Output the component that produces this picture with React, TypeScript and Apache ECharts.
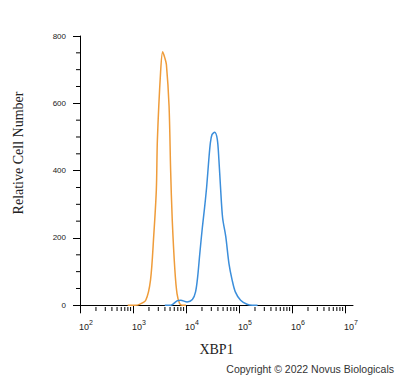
import React, { useEffect, useRef } from "react";
import * as echarts from "echarts";

// x positions are log10(fluorescence intensity)
const ORANGE_X = [2.9, 3.05, 3.11, 3.24, 3.33, 3.39, 3.44, 3.46, 3.52, 3.56, 3.6, 3.63, 3.68, 3.71, 3.74, 3.79, 3.83, 3.88, 3.93, 4.0];
const ORANGE_Y = [0, 0, 2, 15, 75, 204, 343, 492, 692, 753, 735, 715, 592, 400, 254, 104, 35, 5, 0, 0];

const BLUE_X = [3.6, 3.71, 3.83, 3.9, 4.02, 4.12, 4.18, 4.22, 4.26, 4.31, 4.35, 4.39, 4.43, 4.46, 4.49, 4.54, 4.59, 4.62, 4.65, 4.69, 4.75, 4.81, 4.87, 4.93, 5.03, 5.15, 5.25, 5.35];
const BLUE_Y = [0, 0, 13, 15, 10, 17, 40, 85, 154, 234, 290, 353, 433, 483, 507, 514, 493, 433, 353, 260, 204, 124, 75, 40, 15, 3, 0, 0];

const X_DECADES = [2, 3, 4, 5, 6, 7];
const MINOR_MULTIPLIERS = [2, 3, 4, 5, 6, 7, 8, 9];
const Y_TICKS = [0, 200, 400, 600, 800];
const Y_MINOR_TICKS = [50, 100, 150, 250, 300, 350, 450, 500, 550, 650, 700, 750];

const X_MIN = 2;
const X_MAX = 7.15;
const Y_MIN = -5;
const Y_MAX = 800;

const minorTicks: number[][] = [];
X_DECADES.slice(0, -1).forEach((d) => {
  MINOR_MULTIPLIERS.forEach((m) => minorTicks.push([d + Math.log10(m), Y_MIN]));
});

export default function App() {
  const ref = useRef<HTMLDivElement>(null);
  useEffect(() => {
    const chart = echarts.init(ref.current!, null, { renderer: "svg" });
    chart.setOption({
      animation: false,
      backgroundColor: "#ffffff",
      grid: { left: 80, right: 47, top: 36, bottom: 71, containLabel: false },
      xAxis: {
        type: "value",
        min: X_MIN,
        max: X_MAX,
        interval: 1,
        name: "XBP1",
        nameLocation: "middle",
        nameGap: 35,
        nameTextStyle: { fontFamily: "Liberation Serif", fontSize: 14, color: "#222" },
        axisLine: { lineStyle: { color: "#000", width: 1 } },
        axisTick: { length: 8, lineStyle: { color: "#000" }, customValues: X_DECADES },
        splitLine: { show: false },
        axisLabel: {
          customValues: X_DECADES,
          margin: 10,
          padding: [0, 0, 0, 12],
          formatter: (v: number) => `{b|10}{s|${v}}`,
          rich: {
            b: { fontFamily: "Liberation Sans", fontSize: 9, color: "#222", padding: [5, 0, 0, 0] },
            s: { fontFamily: "Liberation Sans", fontSize: 7, color: "#222", padding: [0, 0, 4, 0] },
          },
        },
      },
      yAxis: {
        type: "value",
        min: Y_MIN,
        max: Y_MAX,
        axisLine: { show: true, lineStyle: { color: "#000", width: 1 } },
        axisTick: { show: true, length: 7, lineStyle: { color: "#000" }, customValues: Y_TICKS },
        minorTick: { show: false },
        splitLine: { show: false },
        axisLabel: {
          customValues: Y_TICKS,
          margin: 14,
          fontFamily: "Liberation Sans",
          fontSize: 8,
          color: "#222",
        },
      },
      graphic: [
        {
          type: "text",
          x: 18,
          y: 153,
          rotation: Math.PI / 2,
          style: {
            text: "Relative Cell Number",
            fontFamily: "Liberation Serif",
            fontSize: 14,
            fill: "#222",
            align: "center",
            verticalAlign: "middle",
          },
        },
        {
          type: "text",
          x: 394,
          y: 369,
          style: {
            text: "Copyright © 2022 Novus Biologicals",
            fontFamily: "Liberation Sans",
            fontSize: 10.5,
            fill: "#333",
            align: "right",
            verticalAlign: "middle",
          },
        },
      ],
      series: [
        {
          type: "custom",
          silent: true,
          clip: false,
          data: minorTicks,
          renderItem: (params: any, api: any) => {
            const p = api.coord([api.value(0), api.value(1)]);
            return {
              type: "line",
              shape: { x1: p[0], y1: p[1], x2: p[0], y2: p[1] + 4 },
              style: { stroke: "#000", lineWidth: 1 },
            };
          },
        },
        {
          type: "custom",
          silent: true,
          clip: false,
          data: Y_MINOR_TICKS.map((v) => [X_MIN, v]),
          renderItem: (params: any, api: any) => {
            const p = api.coord([api.value(0), api.value(1)]);
            return {
              type: "line",
              shape: { x1: p[0] - 4, y1: p[1], x2: p[0], y2: p[1] },
              style: { stroke: "#000", lineWidth: 1 },
            };
          },
        },
        {
          type: "line",
          data: ORANGE_X.map((x, i) => [x, ORANGE_Y[i]]),
          smooth: 0.3,
          showSymbol: false,
          lineStyle: { color: "#EF9C3A", width: 1.5 },
        },
        {
          type: "line",
          data: BLUE_X.map((x, i) => [x, BLUE_Y[i]]),
          smooth: 0.3,
          showSymbol: false,
          lineStyle: { color: "#3B8EDB", width: 1.5 },
        },
      ],
    });
    return () => chart.dispose();
  }, []);
  return <div ref={ref} style={{ width: 400, height: 378, position: "absolute", left: 0, top: 0 }} />;
}
